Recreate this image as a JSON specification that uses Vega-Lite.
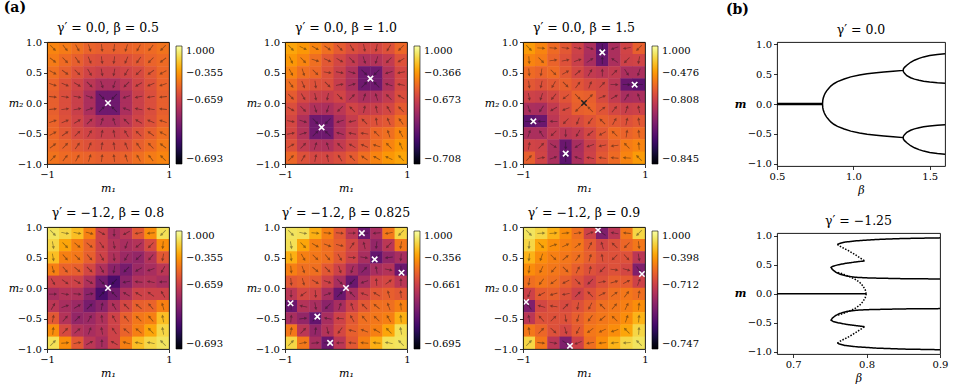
{
"$schema":"https://vega.github.io/schema/vega-lite/v6.json",
"background":"white",
"padding":{"left":3,"top":1,"right":2,"bottom":0},
"config":{
"view":{"stroke":"black","strokeWidth":0.9},
"style":{"cell":{"strokeForeground":true}},
"font":"DejaVu Serif",
"title":{"font":"DejaVu Serif","fontSize":12.5,"fontWeight":"normal","color":"black","offset":3,"frame":"group"},
"axis":{"domain":false,"grid":false,"ticks":true,"tickColor":"black","tickSize":3.5,"tickWidth":0.8,"labelFont":"DejaVu Serif","labelFontSize":10,"labelColor":"black","labelPadding":2,"labelFlush":false,"titleFont":"DejaVu Serif","titleFontSize":11,"titleFontWeight":"normal","titleFontStyle":"italic","titleColor":"black","titlePadding":3},
"legend":{"labelFont":"DejaVu Serif","labelFontSize":10,"labelColor":"black"}
},
"datasets":{
"p1":[
{"x":-0.9,"y":0.9,"v":0.73,"a":135},{"x":-0.7,"y":0.9,"v":0.71,"a":142},{"x":-0.5,"y":0.9,"v":0.68,"a":151},{"x":-0.3,"y":0.9,"v":0.65,"a":162},{"x":-0.1,"y":0.9,"v":0.64,"a":174},{"x":0.1,"y":0.9,"v":0.64,"a":186},{"x":0.3,"y":0.9,"v":0.65,"a":198},{"x":0.5,"y":0.9,"v":0.66,"a":209},{"x":0.7,"y":0.9,"v":0.67,"a":218},{"x":0.9,"y":0.9,"v":0.69,"a":225},
{"x":-0.9,"y":0.7,"v":0.71,"a":128},{"x":-0.7,"y":0.7,"v":0.67,"a":135},{"x":-0.5,"y":0.7,"v":0.64,"a":144},{"x":-0.3,"y":0.7,"v":0.6,"a":157},{"x":-0.1,"y":0.7,"v":0.59,"a":172},{"x":0.1,"y":0.7,"v":0.59,"a":188},{"x":0.3,"y":0.7,"v":0.6,"a":203},{"x":0.5,"y":0.7,"v":0.62,"a":216},{"x":0.7,"y":0.7,"v":0.65,"a":225},{"x":0.9,"y":0.7,"v":0.67,"a":232},
{"x":-0.9,"y":0.5,"v":0.68,"a":119},{"x":-0.7,"y":0.5,"v":0.64,"a":126},{"x":-0.5,"y":0.5,"v":0.6,"a":135},{"x":-0.3,"y":0.5,"v":0.56,"a":149},{"x":-0.1,"y":0.5,"v":0.54,"a":169},{"x":0.1,"y":0.5,"v":0.54,"a":191},{"x":0.3,"y":0.5,"v":0.56,"a":211},{"x":0.5,"y":0.5,"v":0.58,"a":225},{"x":0.7,"y":0.5,"v":0.62,"a":234},{"x":0.9,"y":0.5,"v":0.66,"a":241},
{"x":-0.9,"y":0.3,"v":0.65,"a":108},{"x":-0.7,"y":0.3,"v":0.6,"a":113},{"x":-0.5,"y":0.3,"v":0.56,"a":121},{"x":-0.3,"y":0.3,"v":0.5,"a":135},{"x":-0.1,"y":0.3,"v":0.46,"a":162},{"x":0.1,"y":0.3,"v":0.46,"a":198},{"x":0.3,"y":0.3,"v":0.5,"a":225},{"x":0.5,"y":0.3,"v":0.56,"a":239},{"x":0.7,"y":0.3,"v":0.6,"a":247},{"x":0.9,"y":0.3,"v":0.65,"a":252},
{"x":-0.9,"y":0.1,"v":0.64,"a":96},{"x":-0.7,"y":0.1,"v":0.59,"a":98},{"x":-0.5,"y":0.1,"v":0.54,"a":101},{"x":-0.3,"y":0.1,"v":0.46,"a":108},{"x":-0.1,"y":0.1,"v":0.31,"a":135},{"x":0.1,"y":0.1,"v":0.31,"a":225},{"x":0.3,"y":0.1,"v":0.46,"a":252},{"x":0.5,"y":0.1,"v":0.54,"a":259},{"x":0.7,"y":0.1,"v":0.59,"a":262},{"x":0.9,"y":0.1,"v":0.64,"a":264},
{"x":-0.9,"y":-0.1,"v":0.64,"a":84},{"x":-0.7,"y":-0.1,"v":0.59,"a":82},{"x":-0.5,"y":-0.1,"v":0.54,"a":79},{"x":-0.3,"y":-0.1,"v":0.46,"a":72},{"x":-0.1,"y":-0.1,"v":0.31,"a":45},{"x":0.1,"y":-0.1,"v":0.31,"a":315},{"x":0.3,"y":-0.1,"v":0.46,"a":288},{"x":0.5,"y":-0.1,"v":0.54,"a":281},{"x":0.7,"y":-0.1,"v":0.59,"a":278},{"x":0.9,"y":-0.1,"v":0.64,"a":276},
{"x":-0.9,"y":-0.3,"v":0.65,"a":72},{"x":-0.7,"y":-0.3,"v":0.6,"a":67},{"x":-0.5,"y":-0.3,"v":0.56,"a":59},{"x":-0.3,"y":-0.3,"v":0.5,"a":45},{"x":-0.1,"y":-0.3,"v":0.46,"a":18},{"x":0.1,"y":-0.3,"v":0.46,"a":342},{"x":0.3,"y":-0.3,"v":0.5,"a":315},{"x":0.5,"y":-0.3,"v":0.56,"a":301},{"x":0.7,"y":-0.3,"v":0.6,"a":293},{"x":0.9,"y":-0.3,"v":0.65,"a":288},
{"x":-0.9,"y":-0.5,"v":0.66,"a":61},{"x":-0.7,"y":-0.5,"v":0.62,"a":54},{"x":-0.5,"y":-0.5,"v":0.58,"a":45},{"x":-0.3,"y":-0.5,"v":0.56,"a":31},{"x":-0.1,"y":-0.5,"v":0.54,"a":11},{"x":0.1,"y":-0.5,"v":0.54,"a":349},{"x":0.3,"y":-0.5,"v":0.56,"a":329},{"x":0.5,"y":-0.5,"v":0.6,"a":315},{"x":0.7,"y":-0.5,"v":0.64,"a":306},{"x":0.9,"y":-0.5,"v":0.68,"a":299},
{"x":-0.9,"y":-0.7,"v":0.67,"a":52},{"x":-0.7,"y":-0.7,"v":0.65,"a":45},{"x":-0.5,"y":-0.7,"v":0.62,"a":36},{"x":-0.3,"y":-0.7,"v":0.6,"a":23},{"x":-0.1,"y":-0.7,"v":0.59,"a":8},{"x":0.1,"y":-0.7,"v":0.59,"a":352},{"x":0.3,"y":-0.7,"v":0.6,"a":337},{"x":0.5,"y":-0.7,"v":0.64,"a":324},{"x":0.7,"y":-0.7,"v":0.67,"a":315},{"x":0.9,"y":-0.7,"v":0.71,"a":308},
{"x":-0.9,"y":-0.9,"v":0.69,"a":45},{"x":-0.7,"y":-0.9,"v":0.67,"a":38},{"x":-0.5,"y":-0.9,"v":0.66,"a":29},{"x":-0.3,"y":-0.9,"v":0.65,"a":18},{"x":-0.1,"y":-0.9,"v":0.64,"a":6},{"x":0.1,"y":-0.9,"v":0.64,"a":354},{"x":0.3,"y":-0.9,"v":0.65,"a":342},{"x":0.5,"y":-0.9,"v":0.68,"a":331},{"x":0.7,"y":-0.9,"v":0.71,"a":322},{"x":0.9,"y":-0.9,"v":0.73,"a":315}
],
"p2":[
{"x":-0.9,"y":0.9,"v":0.8,"a":135},{"x":-0.7,"y":0.9,"v":0.77,"a":114},{"x":-0.5,"y":0.9,"v":0.73,"a":119},{"x":-0.3,"y":0.9,"v":0.68,"a":125},{"x":-0.1,"y":0.9,"v":0.63,"a":135},{"x":0.1,"y":0.9,"v":0.59,"a":149},{"x":0.3,"y":0.9,"v":0.57,"a":169},{"x":0.5,"y":0.9,"v":0.57,"a":191},{"x":0.7,"y":0.9,"v":0.6,"a":211},{"x":0.9,"y":0.9,"v":0.66,"a":225},
{"x":-0.9,"y":0.7,"v":0.77,"a":156},{"x":-0.7,"y":0.7,"v":0.73,"a":135},{"x":-0.5,"y":0.7,"v":0.68,"a":108},{"x":-0.3,"y":0.7,"v":0.62,"a":113},{"x":-0.1,"y":0.7,"v":0.57,"a":121},{"x":0.1,"y":0.7,"v":0.52,"a":135},{"x":0.3,"y":0.7,"v":0.47,"a":162},{"x":0.5,"y":0.7,"v":0.48,"a":198},{"x":0.7,"y":0.7,"v":0.52,"a":225},{"x":0.9,"y":0.7,"v":0.6,"a":239},
{"x":-0.9,"y":0.5,"v":0.73,"a":151},{"x":-0.7,"y":0.5,"v":0.68,"a":162},{"x":-0.5,"y":0.5,"v":0.66,"a":135},{"x":-0.3,"y":0.5,"v":0.6,"a":98},{"x":-0.1,"y":0.5,"v":0.54,"a":101},{"x":0.1,"y":0.5,"v":0.47,"a":108},{"x":0.3,"y":0.5,"v":0.31,"a":135},{"x":0.5,"y":0.5,"v":0.31,"a":225},{"x":0.7,"y":0.5,"v":0.48,"a":252},{"x":0.9,"y":0.5,"v":0.57,"a":259},
{"x":-0.9,"y":0.3,"v":0.68,"a":145},{"x":-0.7,"y":0.3,"v":0.62,"a":157},{"x":-0.5,"y":0.3,"v":0.6,"a":172},{"x":-0.3,"y":0.3,"v":0.59,"a":135},{"x":-0.1,"y":0.3,"v":0.53,"a":79},{"x":0.1,"y":0.3,"v":0.46,"a":72},{"x":0.3,"y":0.3,"v":0.31,"a":45},{"x":0.5,"y":0.3,"v":0.31,"a":315},{"x":0.7,"y":0.3,"v":0.47,"a":288},{"x":0.9,"y":0.3,"v":0.57,"a":281},
{"x":-0.9,"y":0.1,"v":0.63,"a":135},{"x":-0.7,"y":0.1,"v":0.57,"a":149},{"x":-0.5,"y":0.1,"v":0.54,"a":169},{"x":-0.3,"y":0.1,"v":0.53,"a":191},{"x":-0.1,"y":0.1,"v":0.56,"a":135},{"x":0.1,"y":0.1,"v":0.5,"a":45},{"x":0.3,"y":0.1,"v":0.46,"a":18},{"x":0.5,"y":0.1,"v":0.47,"a":342},{"x":0.7,"y":0.1,"v":0.52,"a":315},{"x":0.9,"y":0.1,"v":0.59,"a":301},
{"x":-0.9,"y":-0.1,"v":0.59,"a":121},{"x":-0.7,"y":-0.1,"v":0.52,"a":135},{"x":-0.5,"y":-0.1,"v":0.47,"a":162},{"x":-0.3,"y":-0.1,"v":0.46,"a":198},{"x":-0.1,"y":-0.1,"v":0.5,"a":225},{"x":0.1,"y":-0.1,"v":0.56,"a":315},{"x":0.3,"y":-0.1,"v":0.53,"a":11},{"x":0.5,"y":-0.1,"v":0.54,"a":349},{"x":0.7,"y":-0.1,"v":0.57,"a":329},{"x":0.9,"y":-0.1,"v":0.63,"a":315},
{"x":-0.9,"y":-0.3,"v":0.57,"a":101},{"x":-0.7,"y":-0.3,"v":0.47,"a":108},{"x":-0.5,"y":-0.3,"v":0.31,"a":135},{"x":-0.3,"y":-0.3,"v":0.31,"a":225},{"x":-0.1,"y":-0.3,"v":0.46,"a":252},{"x":0.1,"y":-0.3,"v":0.53,"a":259},{"x":0.3,"y":-0.3,"v":0.59,"a":315},{"x":0.5,"y":-0.3,"v":0.6,"a":352},{"x":0.7,"y":-0.3,"v":0.62,"a":337},{"x":0.9,"y":-0.3,"v":0.68,"a":325},
{"x":-0.9,"y":-0.5,"v":0.57,"a":79},{"x":-0.7,"y":-0.5,"v":0.48,"a":72},{"x":-0.5,"y":-0.5,"v":0.31,"a":45},{"x":-0.3,"y":-0.5,"v":0.31,"a":315},{"x":-0.1,"y":-0.5,"v":0.47,"a":288},{"x":0.1,"y":-0.5,"v":0.54,"a":281},{"x":0.3,"y":-0.5,"v":0.6,"a":278},{"x":0.5,"y":-0.5,"v":0.66,"a":315},{"x":0.7,"y":-0.5,"v":0.68,"a":342},{"x":0.9,"y":-0.5,"v":0.73,"a":331},
{"x":-0.9,"y":-0.7,"v":0.6,"a":59},{"x":-0.7,"y":-0.7,"v":0.52,"a":45},{"x":-0.5,"y":-0.7,"v":0.48,"a":18},{"x":-0.3,"y":-0.7,"v":0.47,"a":342},{"x":-0.1,"y":-0.7,"v":0.52,"a":315},{"x":0.1,"y":-0.7,"v":0.57,"a":301},{"x":0.3,"y":-0.7,"v":0.62,"a":293},{"x":0.5,"y":-0.7,"v":0.68,"a":288},{"x":0.7,"y":-0.7,"v":0.73,"a":315},{"x":0.9,"y":-0.7,"v":0.77,"a":336},
{"x":-0.9,"y":-0.9,"v":0.66,"a":45},{"x":-0.7,"y":-0.9,"v":0.6,"a":31},{"x":-0.5,"y":-0.9,"v":0.57,"a":11},{"x":-0.3,"y":-0.9,"v":0.57,"a":349},{"x":-0.1,"y":-0.9,"v":0.59,"a":329},{"x":0.1,"y":-0.9,"v":0.63,"a":315},{"x":0.3,"y":-0.9,"v":0.68,"a":305},{"x":0.5,"y":-0.9,"v":0.73,"a":299},{"x":0.7,"y":-0.9,"v":0.77,"a":294},{"x":0.9,"y":-0.9,"v":0.8,"a":315}
],
"p3":[
{"x":-0.9,"y":0.9,"v":0.78,"a":135},{"x":-0.7,"y":0.9,"v":0.73,"a":94},{"x":-0.5,"y":0.9,"v":0.67,"a":95},{"x":-0.3,"y":0.9,"v":0.62,"a":97},{"x":-0.1,"y":0.9,"v":0.55,"a":100},{"x":0.1,"y":0.9,"v":0.46,"a":109},{"x":0.3,"y":0.9,"v":0.27,"a":180},{"x":0.5,"y":0.9,"v":0.46,"a":251},{"x":0.7,"y":0.9,"v":0.56,"a":260},{"x":0.9,"y":0.9,"v":0.64,"a":225},
{"x":-0.9,"y":0.7,"v":0.73,"a":176},{"x":-0.7,"y":0.7,"v":0.71,"a":135},{"x":-0.5,"y":0.7,"v":0.65,"a":81},{"x":-0.3,"y":0.7,"v":0.6,"a":78},{"x":-0.1,"y":0.7,"v":0.54,"a":72},{"x":0.1,"y":0.7,"v":0.45,"a":57},{"x":0.3,"y":0.7,"v":0.3,"a":0},{"x":0.5,"y":0.7,"v":0.46,"a":303},{"x":0.7,"y":0.7,"v":0.55,"a":225},{"x":0.9,"y":0.7,"v":0.56,"a":190},
{"x":-0.9,"y":0.5,"v":0.67,"a":175},{"x":-0.7,"y":0.5,"v":0.65,"a":189},{"x":-0.5,"y":0.5,"v":0.67,"a":135},{"x":-0.3,"y":0.5,"v":0.62,"a":61},{"x":-0.1,"y":0.5,"v":0.57,"a":50},{"x":0.1,"y":0.5,"v":0.52,"a":31},{"x":0.3,"y":0.5,"v":0.5,"a":0},{"x":0.5,"y":0.5,"v":0.52,"a":45},{"x":0.7,"y":0.5,"v":0.46,"a":147},{"x":0.9,"y":0.5,"v":0.46,"a":199},
{"x":-0.9,"y":0.3,"v":0.62,"a":173},{"x":-0.7,"y":0.3,"v":0.6,"a":192},{"x":-0.5,"y":0.3,"v":0.62,"a":209},{"x":-0.3,"y":0.3,"v":0.64,"a":135},{"x":-0.1,"y":0.3,"v":0.61,"a":37},{"x":0.1,"y":0.3,"v":0.58,"a":21},{"x":0.3,"y":0.3,"v":0.57,"a":45},{"x":0.5,"y":0.3,"v":0.5,"a":90},{"x":0.7,"y":0.3,"v":0.3,"a":90},{"x":0.9,"y":0.3,"v":0.27,"a":270},
{"x":-0.9,"y":0.1,"v":0.55,"a":170},{"x":-0.7,"y":0.1,"v":0.54,"a":198},{"x":-0.5,"y":0.1,"v":0.57,"a":220},{"x":-0.3,"y":0.1,"v":0.61,"a":233},{"x":-0.1,"y":0.1,"v":0.65,"a":135},{"x":0.1,"y":0.1,"v":0.64,"a":45},{"x":0.3,"y":0.1,"v":0.58,"a":69},{"x":0.5,"y":0.1,"v":0.52,"a":59},{"x":0.7,"y":0.1,"v":0.45,"a":33},{"x":0.9,"y":0.1,"v":0.46,"a":341},
{"x":-0.9,"y":-0.1,"v":0.46,"a":161},{"x":-0.7,"y":-0.1,"v":0.45,"a":213},{"x":-0.5,"y":-0.1,"v":0.52,"a":239},{"x":-0.3,"y":-0.1,"v":0.58,"a":249},{"x":-0.1,"y":-0.1,"v":0.64,"a":225},{"x":0.1,"y":-0.1,"v":0.65,"a":315},{"x":0.3,"y":-0.1,"v":0.61,"a":53},{"x":0.5,"y":-0.1,"v":0.57,"a":40},{"x":0.7,"y":-0.1,"v":0.54,"a":18},{"x":0.9,"y":-0.1,"v":0.55,"a":350},
{"x":-0.9,"y":-0.3,"v":0.27,"a":90},{"x":-0.7,"y":-0.3,"v":0.3,"a":270},{"x":-0.5,"y":-0.3,"v":0.5,"a":270},{"x":-0.3,"y":-0.3,"v":0.57,"a":225},{"x":-0.1,"y":-0.3,"v":0.58,"a":201},{"x":0.1,"y":-0.3,"v":0.61,"a":217},{"x":0.3,"y":-0.3,"v":0.64,"a":315},{"x":0.5,"y":-0.3,"v":0.62,"a":29},{"x":0.7,"y":-0.3,"v":0.6,"a":12},{"x":0.9,"y":-0.3,"v":0.62,"a":353},
{"x":-0.9,"y":-0.5,"v":0.46,"a":19},{"x":-0.7,"y":-0.5,"v":0.46,"a":327},{"x":-0.5,"y":-0.5,"v":0.52,"a":225},{"x":-0.3,"y":-0.5,"v":0.5,"a":180},{"x":-0.1,"y":-0.5,"v":0.52,"a":211},{"x":0.1,"y":-0.5,"v":0.57,"a":230},{"x":0.3,"y":-0.5,"v":0.62,"a":241},{"x":0.5,"y":-0.5,"v":0.67,"a":315},{"x":0.7,"y":-0.5,"v":0.65,"a":9},{"x":0.9,"y":-0.5,"v":0.67,"a":355},
{"x":-0.9,"y":-0.7,"v":0.56,"a":10},{"x":-0.7,"y":-0.7,"v":0.55,"a":45},{"x":-0.5,"y":-0.7,"v":0.46,"a":123},{"x":-0.3,"y":-0.7,"v":0.3,"a":180},{"x":-0.1,"y":-0.7,"v":0.45,"a":237},{"x":0.1,"y":-0.7,"v":0.54,"a":252},{"x":0.3,"y":-0.7,"v":0.6,"a":258},{"x":0.5,"y":-0.7,"v":0.65,"a":261},{"x":0.7,"y":-0.7,"v":0.71,"a":315},{"x":0.9,"y":-0.7,"v":0.73,"a":356},
{"x":-0.9,"y":-0.9,"v":0.64,"a":45},{"x":-0.7,"y":-0.9,"v":0.56,"a":80},{"x":-0.5,"y":-0.9,"v":0.46,"a":71},{"x":-0.3,"y":-0.9,"v":0.27,"a":0},{"x":-0.1,"y":-0.9,"v":0.46,"a":289},{"x":0.1,"y":-0.9,"v":0.55,"a":280},{"x":0.3,"y":-0.9,"v":0.62,"a":277},{"x":0.5,"y":-0.9,"v":0.67,"a":275},{"x":0.7,"y":-0.9,"v":0.73,"a":274},{"x":0.9,"y":-0.9,"v":0.78,"a":315}
],
"p4":[
{"x":-0.9,"y":0.9,"v":0.93,"a":135},{"x":-0.7,"y":0.9,"v":0.9,"a":100},{"x":-0.5,"y":0.9,"v":0.85,"a":100},{"x":-0.3,"y":0.9,"v":0.72,"a":105},{"x":-0.1,"y":0.9,"v":0.55,"a":120},{"x":0.1,"y":0.9,"v":0.45,"a":180},{"x":0.3,"y":0.9,"v":0.5,"a":240},{"x":0.5,"y":0.9,"v":0.62,"a":260},{"x":0.7,"y":0.9,"v":0.75,"a":265},{"x":0.9,"y":0.9,"v":0.92,"a":225},
{"x":-0.9,"y":0.7,"v":0.9,"a":170},{"x":-0.7,"y":0.7,"v":0.8,"a":135},{"x":-0.5,"y":0.7,"v":0.72,"a":130},{"x":-0.3,"y":0.7,"v":0.65,"a":130},{"x":-0.1,"y":0.7,"v":0.55,"a":145},{"x":0.1,"y":0.7,"v":0.48,"a":170},{"x":0.3,"y":0.7,"v":0.45,"a":200},{"x":0.5,"y":0.7,"v":0.48,"a":230},{"x":0.7,"y":0.7,"v":0.58,"a":225},{"x":0.9,"y":0.7,"v":0.75,"a":185},
{"x":-0.9,"y":0.5,"v":0.85,"a":170},{"x":-0.7,"y":0.5,"v":0.72,"a":140},{"x":-0.5,"y":0.5,"v":0.7,"a":135},{"x":-0.3,"y":0.5,"v":0.64,"a":140},{"x":-0.1,"y":0.5,"v":0.55,"a":150},{"x":0.1,"y":0.5,"v":0.47,"a":175},{"x":0.3,"y":0.5,"v":0.42,"a":210},{"x":0.5,"y":0.5,"v":0.4,"a":225},{"x":0.7,"y":0.5,"v":0.48,"a":220},{"x":0.9,"y":0.5,"v":0.62,"a":190},
{"x":-0.9,"y":0.3,"v":0.72,"a":165},{"x":-0.7,"y":0.3,"v":0.65,"a":140},{"x":-0.5,"y":0.3,"v":0.64,"a":130},{"x":-0.3,"y":0.3,"v":0.57,"a":135},{"x":-0.1,"y":0.3,"v":0.47,"a":150},{"x":0.1,"y":0.3,"v":0.38,"a":190},{"x":0.3,"y":0.3,"v":0.33,"a":225},{"x":0.5,"y":0.3,"v":0.42,"a":240},{"x":0.7,"y":0.3,"v":0.45,"a":250},{"x":0.9,"y":0.3,"v":0.5,"a":210},
{"x":-0.9,"y":0.1,"v":0.55,"a":150},{"x":-0.7,"y":0.1,"v":0.55,"a":125},{"x":-0.5,"y":0.1,"v":0.55,"a":120},{"x":-0.3,"y":0.1,"v":0.47,"a":120},{"x":-0.1,"y":0.1,"v":0.32,"a":135},{"x":0.1,"y":0.1,"v":0.22,"a":225},{"x":0.3,"y":0.1,"v":0.38,"a":260},{"x":0.5,"y":0.1,"v":0.47,"a":275},{"x":0.7,"y":0.1,"v":0.48,"a":280},{"x":0.9,"y":0.1,"v":0.45,"a":270},
{"x":-0.9,"y":-0.1,"v":0.45,"a":90},{"x":-0.7,"y":-0.1,"v":0.48,"a":100},{"x":-0.5,"y":-0.1,"v":0.47,"a":95},{"x":-0.3,"y":-0.1,"v":0.38,"a":80},{"x":-0.1,"y":-0.1,"v":0.22,"a":45},{"x":0.1,"y":-0.1,"v":0.32,"a":315},{"x":0.3,"y":-0.1,"v":0.47,"a":300},{"x":0.5,"y":-0.1,"v":0.55,"a":300},{"x":0.7,"y":-0.1,"v":0.55,"a":305},{"x":0.9,"y":-0.1,"v":0.55,"a":330},
{"x":-0.9,"y":-0.3,"v":0.5,"a":30},{"x":-0.7,"y":-0.3,"v":0.45,"a":70},{"x":-0.5,"y":-0.3,"v":0.42,"a":60},{"x":-0.3,"y":-0.3,"v":0.33,"a":45},{"x":-0.1,"y":-0.3,"v":0.38,"a":10},{"x":0.1,"y":-0.3,"v":0.47,"a":330},{"x":0.3,"y":-0.3,"v":0.57,"a":315},{"x":0.5,"y":-0.3,"v":0.64,"a":310},{"x":0.7,"y":-0.3,"v":0.65,"a":320},{"x":0.9,"y":-0.3,"v":0.72,"a":345},
{"x":-0.9,"y":-0.5,"v":0.62,"a":10},{"x":-0.7,"y":-0.5,"v":0.48,"a":40},{"x":-0.5,"y":-0.5,"v":0.4,"a":45},{"x":-0.3,"y":-0.5,"v":0.42,"a":30},{"x":-0.1,"y":-0.5,"v":0.47,"a":355},{"x":0.1,"y":-0.5,"v":0.55,"a":330},{"x":0.3,"y":-0.5,"v":0.64,"a":320},{"x":0.5,"y":-0.5,"v":0.7,"a":315},{"x":0.7,"y":-0.5,"v":0.72,"a":320},{"x":0.9,"y":-0.5,"v":0.85,"a":350},
{"x":-0.9,"y":-0.7,"v":0.75,"a":5},{"x":-0.7,"y":-0.7,"v":0.58,"a":45},{"x":-0.5,"y":-0.7,"v":0.48,"a":50},{"x":-0.3,"y":-0.7,"v":0.45,"a":20},{"x":-0.1,"y":-0.7,"v":0.48,"a":350},{"x":0.1,"y":-0.7,"v":0.55,"a":325},{"x":0.3,"y":-0.7,"v":0.65,"a":310},{"x":0.5,"y":-0.7,"v":0.72,"a":310},{"x":0.7,"y":-0.7,"v":0.8,"a":315},{"x":0.9,"y":-0.7,"v":0.9,"a":350},
{"x":-0.9,"y":-0.9,"v":0.92,"a":45},{"x":-0.7,"y":-0.9,"v":0.75,"a":85},{"x":-0.5,"y":-0.9,"v":0.62,"a":80},{"x":-0.3,"y":-0.9,"v":0.5,"a":60},{"x":-0.1,"y":-0.9,"v":0.45,"a":0},{"x":0.1,"y":-0.9,"v":0.55,"a":300},{"x":0.3,"y":-0.9,"v":0.72,"a":285},{"x":0.5,"y":-0.9,"v":0.85,"a":280},{"x":0.7,"y":-0.9,"v":0.9,"a":280},{"x":0.9,"y":-0.9,"v":0.93,"a":315}
],
"p5":[
{"x":-0.9,"y":0.9,"v":0.93,"a":135},{"x":-0.7,"y":0.9,"v":0.92,"a":100},{"x":-0.5,"y":0.9,"v":0.82,"a":95},{"x":-0.3,"y":0.9,"v":0.72,"a":95},{"x":-0.1,"y":0.9,"v":0.62,"a":95},{"x":0.1,"y":0.9,"v":0.5,"a":90},{"x":0.3,"y":0.9,"v":0.3,"a":270},{"x":0.5,"y":0.9,"v":0.45,"a":265},{"x":0.7,"y":0.9,"v":0.7,"a":260},{"x":0.9,"y":0.9,"v":0.9,"a":225},
{"x":-0.9,"y":0.7,"v":0.92,"a":170},{"x":-0.7,"y":0.7,"v":0.8,"a":135},{"x":-0.5,"y":0.7,"v":0.72,"a":120},{"x":-0.3,"y":0.7,"v":0.68,"a":110},{"x":-0.1,"y":0.7,"v":0.64,"a":105},{"x":0.1,"y":0.7,"v":0.57,"a":36},{"x":0.3,"y":0.7,"v":0.48,"a":347},{"x":0.5,"y":0.7,"v":0.4,"a":187},{"x":0.7,"y":0.7,"v":0.5,"a":225},{"x":0.9,"y":0.7,"v":0.7,"a":190},
{"x":-0.9,"y":0.5,"v":0.82,"a":175},{"x":-0.7,"y":0.5,"v":0.72,"a":150},{"x":-0.5,"y":0.5,"v":0.7,"a":135},{"x":-0.3,"y":0.5,"v":0.68,"a":140},{"x":-0.1,"y":0.5,"v":0.62,"a":150},{"x":0.1,"y":0.5,"v":0.55,"a":95},{"x":0.3,"y":0.5,"v":0.45,"a":100},{"x":0.5,"y":0.5,"v":0.28,"a":225},{"x":0.7,"y":0.5,"v":0.4,"a":263},{"x":0.9,"y":0.5,"v":0.45,"a":185},
{"x":-0.9,"y":0.3,"v":0.72,"a":175},{"x":-0.7,"y":0.3,"v":0.68,"a":160},{"x":-0.5,"y":0.3,"v":0.68,"a":130},{"x":-0.3,"y":0.3,"v":0.62,"a":135},{"x":-0.1,"y":0.3,"v":0.55,"a":162},{"x":0.1,"y":0.3,"v":0.45,"a":198},{"x":0.3,"y":0.3,"v":0.38,"a":45},{"x":0.5,"y":0.3,"v":0.45,"a":350},{"x":0.7,"y":0.3,"v":0.48,"a":103},{"x":0.9,"y":0.3,"v":0.3,"a":180},
{"x":-0.9,"y":0.1,"v":0.62,"a":175},{"x":-0.7,"y":0.1,"v":0.64,"a":165},{"x":-0.5,"y":0.1,"v":0.62,"a":120},{"x":-0.3,"y":0.1,"v":0.55,"a":108},{"x":-0.1,"y":0.1,"v":0.45,"a":135},{"x":0.1,"y":0.1,"v":0.3,"a":225},{"x":0.3,"y":0.1,"v":0.45,"a":252},{"x":0.5,"y":0.1,"v":0.55,"a":355},{"x":0.7,"y":0.1,"v":0.57,"a":54},{"x":0.9,"y":0.1,"v":0.5,"a":0},
{"x":-0.9,"y":-0.1,"v":0.5,"a":180},{"x":-0.7,"y":-0.1,"v":0.57,"a":234},{"x":-0.5,"y":-0.1,"v":0.55,"a":175},{"x":-0.3,"y":-0.1,"v":0.45,"a":72},{"x":-0.1,"y":-0.1,"v":0.3,"a":45},{"x":0.1,"y":-0.1,"v":0.45,"a":315},{"x":0.3,"y":-0.1,"v":0.55,"a":288},{"x":0.5,"y":-0.1,"v":0.62,"a":300},{"x":0.7,"y":-0.1,"v":0.64,"a":345},{"x":0.9,"y":-0.1,"v":0.62,"a":355},
{"x":-0.9,"y":-0.3,"v":0.3,"a":0},{"x":-0.7,"y":-0.3,"v":0.48,"a":283},{"x":-0.5,"y":-0.3,"v":0.45,"a":170},{"x":-0.3,"y":-0.3,"v":0.38,"a":225},{"x":-0.1,"y":-0.3,"v":0.45,"a":18},{"x":0.1,"y":-0.3,"v":0.55,"a":342},{"x":0.3,"y":-0.3,"v":0.62,"a":315},{"x":0.5,"y":-0.3,"v":0.68,"a":310},{"x":0.7,"y":-0.3,"v":0.68,"a":340},{"x":0.9,"y":-0.3,"v":0.72,"a":355},
{"x":-0.9,"y":-0.5,"v":0.45,"a":5},{"x":-0.7,"y":-0.5,"v":0.4,"a":83},{"x":-0.5,"y":-0.5,"v":0.28,"a":45},{"x":-0.3,"y":-0.5,"v":0.45,"a":280},{"x":-0.1,"y":-0.5,"v":0.55,"a":275},{"x":0.1,"y":-0.5,"v":0.62,"a":330},{"x":0.3,"y":-0.5,"v":0.68,"a":320},{"x":0.5,"y":-0.5,"v":0.7,"a":315},{"x":0.7,"y":-0.5,"v":0.72,"a":330},{"x":0.9,"y":-0.5,"v":0.82,"a":355},
{"x":-0.9,"y":-0.7,"v":0.7,"a":10},{"x":-0.7,"y":-0.7,"v":0.5,"a":45},{"x":-0.5,"y":-0.7,"v":0.4,"a":7},{"x":-0.3,"y":-0.7,"v":0.48,"a":167},{"x":-0.1,"y":-0.7,"v":0.57,"a":216},{"x":0.1,"y":-0.7,"v":0.64,"a":285},{"x":0.3,"y":-0.7,"v":0.68,"a":290},{"x":0.5,"y":-0.7,"v":0.72,"a":300},{"x":0.7,"y":-0.7,"v":0.8,"a":315},{"x":0.9,"y":-0.7,"v":0.92,"a":350},
{"x":-0.9,"y":-0.9,"v":0.9,"a":45},{"x":-0.7,"y":-0.9,"v":0.7,"a":80},{"x":-0.5,"y":-0.9,"v":0.45,"a":85},{"x":-0.3,"y":-0.9,"v":0.3,"a":90},{"x":-0.1,"y":-0.9,"v":0.5,"a":270},{"x":0.1,"y":-0.9,"v":0.62,"a":275},{"x":0.3,"y":-0.9,"v":0.72,"a":275},{"x":0.5,"y":-0.9,"v":0.82,"a":275},{"x":0.7,"y":-0.9,"v":0.92,"a":280},{"x":0.9,"y":-0.9,"v":0.93,"a":315}
],
"p6":[
{"x":-0.9,"y":0.9,"v":0.93,"a":135},{"x":-0.7,"y":0.9,"v":0.9,"a":87},{"x":-0.5,"y":0.9,"v":0.83,"a":86},{"x":-0.3,"y":0.9,"v":0.75,"a":85},{"x":-0.1,"y":0.9,"v":0.68,"a":81},{"x":0.1,"y":0.9,"v":0.55,"a":69},{"x":0.3,"y":0.9,"v":0.35,"a":305},{"x":0.5,"y":0.9,"v":0.5,"a":280},{"x":0.7,"y":0.9,"v":0.7,"a":276},{"x":0.9,"y":0.9,"v":0.9,"a":225},
{"x":-0.9,"y":0.7,"v":0.9,"a":183},{"x":-0.7,"y":0.7,"v":0.8,"a":135},{"x":-0.5,"y":0.7,"v":0.75,"a":71},{"x":-0.3,"y":0.7,"v":0.72,"a":65},{"x":-0.1,"y":0.7,"v":0.7,"a":53},{"x":0.1,"y":0.7,"v":0.63,"a":27},{"x":0.3,"y":0.7,"v":0.57,"a":344},{"x":0.5,"y":0.7,"v":0.6,"a":313},{"x":0.7,"y":0.7,"v":0.66,"a":225},{"x":0.9,"y":0.7,"v":0.7,"a":174},
{"x":-0.9,"y":0.5,"v":0.83,"a":184},{"x":-0.7,"y":0.5,"v":0.75,"a":199},{"x":-0.5,"y":0.5,"v":0.72,"a":135},{"x":-0.3,"y":0.5,"v":0.7,"a":50},{"x":-0.1,"y":0.5,"v":0.68,"a":36},{"x":0.1,"y":0.5,"v":0.64,"a":16},{"x":0.3,"y":0.5,"v":0.6,"a":351},{"x":0.5,"y":0.5,"v":0.6,"a":225},{"x":0.7,"y":0.5,"v":0.6,"a":137},{"x":0.9,"y":0.5,"v":0.5,"a":170},
{"x":-0.9,"y":0.3,"v":0.75,"a":185},{"x":-0.7,"y":0.3,"v":0.72,"a":205},{"x":-0.5,"y":0.3,"v":0.7,"a":220},{"x":-0.3,"y":0.3,"v":0.68,"a":135},{"x":-0.1,"y":0.3,"v":0.64,"a":27},{"x":0.1,"y":0.3,"v":0.6,"a":11},{"x":0.3,"y":0.3,"v":0.58,"a":225},{"x":0.5,"y":0.3,"v":0.6,"a":99},{"x":0.7,"y":0.3,"v":0.57,"a":106},{"x":0.9,"y":0.3,"v":0.35,"a":145},
{"x":-0.9,"y":0.1,"v":0.68,"a":189},{"x":-0.7,"y":0.1,"v":0.7,"a":217},{"x":-0.5,"y":0.1,"v":0.68,"a":234},{"x":-0.3,"y":0.1,"v":0.64,"a":243},{"x":-0.1,"y":0.1,"v":0.6,"a":135},{"x":0.1,"y":0.1,"v":0.55,"a":225},{"x":0.3,"y":0.1,"v":0.6,"a":79},{"x":0.5,"y":0.1,"v":0.64,"a":74},{"x":0.7,"y":0.1,"v":0.63,"a":63},{"x":0.9,"y":0.1,"v":0.55,"a":21},
{"x":-0.9,"y":-0.1,"v":0.55,"a":201},{"x":-0.7,"y":-0.1,"v":0.63,"a":243},{"x":-0.5,"y":-0.1,"v":0.64,"a":254},{"x":-0.3,"y":-0.1,"v":0.6,"a":259},{"x":-0.1,"y":-0.1,"v":0.55,"a":45},{"x":0.1,"y":-0.1,"v":0.6,"a":315},{"x":0.3,"y":-0.1,"v":0.64,"a":63},{"x":0.5,"y":-0.1,"v":0.68,"a":54},{"x":0.7,"y":-0.1,"v":0.7,"a":37},{"x":0.9,"y":-0.1,"v":0.68,"a":9},
{"x":-0.9,"y":-0.3,"v":0.35,"a":325},{"x":-0.7,"y":-0.3,"v":0.57,"a":286},{"x":-0.5,"y":-0.3,"v":0.6,"a":279},{"x":-0.3,"y":-0.3,"v":0.58,"a":45},{"x":-0.1,"y":-0.3,"v":0.6,"a":191},{"x":0.1,"y":-0.3,"v":0.64,"a":207},{"x":0.3,"y":-0.3,"v":0.68,"a":315},{"x":0.5,"y":-0.3,"v":0.7,"a":40},{"x":0.7,"y":-0.3,"v":0.72,"a":25},{"x":0.9,"y":-0.3,"v":0.75,"a":5},
{"x":-0.9,"y":-0.5,"v":0.5,"a":350},{"x":-0.7,"y":-0.5,"v":0.6,"a":317},{"x":-0.5,"y":-0.5,"v":0.6,"a":45},{"x":-0.3,"y":-0.5,"v":0.6,"a":171},{"x":-0.1,"y":-0.5,"v":0.64,"a":196},{"x":0.1,"y":-0.5,"v":0.68,"a":216},{"x":0.3,"y":-0.5,"v":0.7,"a":230},{"x":0.5,"y":-0.5,"v":0.72,"a":315},{"x":0.7,"y":-0.5,"v":0.75,"a":19},{"x":0.9,"y":-0.5,"v":0.83,"a":4},
{"x":-0.9,"y":-0.7,"v":0.7,"a":354},{"x":-0.7,"y":-0.7,"v":0.66,"a":45},{"x":-0.5,"y":-0.7,"v":0.6,"a":133},{"x":-0.3,"y":-0.7,"v":0.57,"a":164},{"x":-0.1,"y":-0.7,"v":0.63,"a":207},{"x":0.1,"y":-0.7,"v":0.7,"a":233},{"x":0.3,"y":-0.7,"v":0.72,"a":245},{"x":0.5,"y":-0.7,"v":0.75,"a":251},{"x":0.7,"y":-0.7,"v":0.8,"a":315},{"x":0.9,"y":-0.7,"v":0.9,"a":3},
{"x":-0.9,"y":-0.9,"v":0.9,"a":45},{"x":-0.7,"y":-0.9,"v":0.7,"a":96},{"x":-0.5,"y":-0.9,"v":0.5,"a":100},{"x":-0.3,"y":-0.9,"v":0.35,"a":125},{"x":-0.1,"y":-0.9,"v":0.55,"a":249},{"x":0.1,"y":-0.9,"v":0.68,"a":261},{"x":0.3,"y":-0.9,"v":0.75,"a":265},{"x":0.5,"y":-0.9,"v":0.83,"a":266},{"x":0.7,"y":-0.9,"v":0.9,"a":267},{"x":0.9,"y":-0.9,"v":0.93,"a":315}
],
"k1":[{"x":0,"y":0,"t":"min"}],
"k2":[{"x":0.4,"y":0.4,"t":"min"},{"x":-0.4,"y":-0.4,"t":"min"}],
"k3":[{"x":0.3,"y":0.83,"t":"min"},{"x":0.83,"y":0.3,"t":"min"},{"x":-0.3,"y":-0.83,"t":"min"},{"x":-0.83,"y":-0.3,"t":"min"},{"x":0,"y":0,"t":"saddle"}],
"k4":[{"x":0,"y":0,"t":"min"}],
"k5":[{"x":0,"y":0,"t":"min"},{"x":0.47,"y":0.47,"t":"min"},{"x":-0.47,"y":-0.47,"t":"min"},{"x":0.26,"y":0.9,"t":"min"},{"x":-0.26,"y":-0.9,"t":"min"},{"x":0.91,"y":0.25,"t":"min"},{"x":-0.91,"y":-0.25,"t":"min"}],
"k6":[{"x":0.23,"y":0.95,"t":"min"},{"x":-0.23,"y":-0.95,"t":"min"},{"x":0.95,"y":0.23,"t":"min"},{"x":-0.95,"y":-0.23,"t":"min"}],
"b1":[
{"c":"z","i":0,"b":0.5,"m":0},{"c":"z","i":1,"b":0.798,"m":0},
{"c":"u","i":0,"b":0.798,"m":0},{"c":"u","i":1,"b":0.8,"m":0.065},{"c":"u","i":2,"b":0.803,"m":0.1},{"c":"u","i":3,"b":0.808,"m":0.14},{"c":"u","i":4,"b":0.815,"m":0.18},{"c":"u","i":5,"b":0.825,"m":0.22},{"c":"u","i":6,"b":0.838,"m":0.26},{"c":"u","i":7,"b":0.852,"m":0.3},{"c":"u","i":8,"b":0.872,"m":0.34},{"c":"u","i":9,"b":0.896,"m":0.375},{"c":"u","i":10,"b":0.94,"m":0.42},{"c":"u","i":11,"b":0.983,"m":0.455},{"c":"u","i":12,"b":1.04,"m":0.485},{"c":"u","i":13,"b":1.09,"m":0.507},{"c":"u","i":14,"b":1.15,"m":0.524},{"c":"u","i":15,"b":1.2,"m":0.536},{"c":"u","i":16,"b":1.26,"m":0.55},{"c":"u","i":17,"b":1.326,"m":0.564},{"c":"u","i":18,"b":1.328,"m":0.59},{"c":"u","i":19,"b":1.335,"m":0.615},{"c":"u","i":20,"b":1.35,"m":0.65},{"c":"u","i":21,"b":1.375,"m":0.7},{"c":"u","i":22,"b":1.4,"m":0.735},{"c":"u","i":23,"b":1.43,"m":0.765},{"c":"u","i":24,"b":1.46,"m":0.79},{"c":"u","i":25,"b":1.5,"m":0.812},{"c":"u","i":26,"b":1.55,"m":0.83},{"c":"u","i":27,"b":1.6,"m":0.845},
{"c":"ul","i":0,"b":1.326,"m":0.564},{"c":"ul","i":1,"b":1.328,"m":0.54},{"c":"ul","i":2,"b":1.335,"m":0.514},{"c":"ul","i":3,"b":1.35,"m":0.475},{"c":"ul","i":4,"b":1.375,"m":0.44},{"c":"ul","i":5,"b":1.4,"m":0.417},{"c":"ul","i":6,"b":1.43,"m":0.398},{"c":"ul","i":7,"b":1.46,"m":0.383},{"c":"ul","i":8,"b":1.5,"m":0.37},{"c":"ul","i":9,"b":1.55,"m":0.358},{"c":"ul","i":10,"b":1.6,"m":0.35},
{"c":"d","i":0,"b":0.798,"m":0},{"c":"d","i":1,"b":0.8,"m":-0.065},{"c":"d","i":2,"b":0.803,"m":-0.1},{"c":"d","i":3,"b":0.808,"m":-0.14},{"c":"d","i":4,"b":0.815,"m":-0.18},{"c":"d","i":5,"b":0.825,"m":-0.22},{"c":"d","i":6,"b":0.838,"m":-0.26},{"c":"d","i":7,"b":0.852,"m":-0.3},{"c":"d","i":8,"b":0.872,"m":-0.34},{"c":"d","i":9,"b":0.896,"m":-0.375},{"c":"d","i":10,"b":0.94,"m":-0.42},{"c":"d","i":11,"b":0.983,"m":-0.455},{"c":"d","i":12,"b":1.04,"m":-0.485},{"c":"d","i":13,"b":1.09,"m":-0.507},{"c":"d","i":14,"b":1.15,"m":-0.524},{"c":"d","i":15,"b":1.2,"m":-0.536},{"c":"d","i":16,"b":1.26,"m":-0.55},{"c":"d","i":17,"b":1.326,"m":-0.564},{"c":"d","i":18,"b":1.328,"m":-0.59},{"c":"d","i":19,"b":1.335,"m":-0.615},{"c":"d","i":20,"b":1.35,"m":-0.65},{"c":"d","i":21,"b":1.375,"m":-0.7},{"c":"d","i":22,"b":1.4,"m":-0.735},{"c":"d","i":23,"b":1.43,"m":-0.765},{"c":"d","i":24,"b":1.46,"m":-0.79},{"c":"d","i":25,"b":1.5,"m":-0.812},{"c":"d","i":26,"b":1.55,"m":-0.83},{"c":"d","i":27,"b":1.6,"m":-0.845},
{"c":"dl","i":0,"b":1.326,"m":-0.564},{"c":"dl","i":1,"b":1.328,"m":-0.54},{"c":"dl","i":2,"b":1.335,"m":-0.514},{"c":"dl","i":3,"b":1.35,"m":-0.475},{"c":"dl","i":4,"b":1.375,"m":-0.44},{"c":"dl","i":5,"b":1.4,"m":-0.417},{"c":"dl","i":6,"b":1.43,"m":-0.398},{"c":"dl","i":7,"b":1.46,"m":-0.383},{"c":"dl","i":8,"b":1.5,"m":-0.37},{"c":"dl","i":9,"b":1.55,"m":-0.358},{"c":"dl","i":10,"b":1.6,"m":-0.35}
],
"b2":[
{"c":"z","st":"stable","i":0,"b":0.678,"m":0},{"c":"z","st":"stable","i":1,"b":0.7995,"m":0},
{"c":"A","st":"stable","i":0,"b":0.9,"m":0.966},{"c":"A","st":"stable","i":1,"b":0.8493,"m":0.955},{"c":"A","st":"stable","i":2,"b":0.8131,"m":0.938},{"c":"A","st":"stable","i":3,"b":0.786,"m":0.915},{"c":"A","st":"stable","i":4,"b":0.77,"m":0.892},{"c":"A","st":"stable","i":5,"b":0.7633,"m":0.869},{"c":"A","st":"stable","i":6,"b":0.7602,"m":0.852},
{"c":"A2","st":"unstable","i":0,"b":0.7602,"m":0.852},{"c":"A2","st":"unstable","i":1,"b":0.7656,"m":0.807},{"c":"A2","st":"unstable","i":2,"b":0.7747,"m":0.75},{"c":"A2","st":"unstable","i":3,"b":0.7837,"m":0.682},{"c":"A2","st":"unstable","i":4,"b":0.7905,"m":0.625},{"c":"A2","st":"unstable","i":5,"b":0.7973,"m":0.568},
{"c":"B","st":"stable","i":0,"b":0.7973,"m":0.568},{"c":"B","st":"stable","i":1,"b":0.786,"m":0.551},{"c":"B","st":"stable","i":2,"b":0.7724,"m":0.528},{"c":"B","st":"stable","i":3,"b":0.7611,"m":0.5},{"c":"B","st":"stable","i":4,"b":0.7543,"m":0.477},{"c":"B","st":"stable","i":5,"b":0.7516,"m":0.455},{"c":"B","st":"stable","i":6,"b":0.7534,"m":0.42},{"c":"B","st":"stable","i":7,"b":0.7579,"m":0.375},{"c":"B","st":"stable","i":8,"b":0.7633,"m":0.341},{"c":"B","st":"stable","i":9,"b":0.7724,"m":0.307},{"c":"B","st":"stable","i":10,"b":0.786,"m":0.284},{"c":"B","st":"stable","i":11,"b":0.8041,"m":0.273},{"c":"B","st":"stable","i":12,"b":0.8493,"m":0.261},{"c":"B","st":"stable","i":13,"b":0.9,"m":0.256},
{"c":"C","st":"unstable","i":0,"b":0.7995,"m":0},{"c":"C","st":"unstable","i":1,"b":0.7982,"m":0.068},{"c":"C","st":"unstable","i":2,"b":0.795,"m":0.136},{"c":"C","st":"unstable","i":3,"b":0.7905,"m":0.199},{"c":"C","st":"unstable","i":4,"b":0.7837,"m":0.256},{"c":"C","st":"unstable","i":5,"b":0.776,"m":0.301},{"c":"C","st":"unstable","i":6,"b":0.7679,"m":0.341},{"c":"C","st":"unstable","i":7,"b":0.7611,"m":0.369},
{"c":"An","st":"stable","i":0,"b":0.9,"m":-0.966},{"c":"An","st":"stable","i":1,"b":0.8493,"m":-0.955},{"c":"An","st":"stable","i":2,"b":0.8131,"m":-0.938},{"c":"An","st":"stable","i":3,"b":0.786,"m":-0.915},{"c":"An","st":"stable","i":4,"b":0.77,"m":-0.892},{"c":"An","st":"stable","i":5,"b":0.7633,"m":-0.869},{"c":"An","st":"stable","i":6,"b":0.7602,"m":-0.852},
{"c":"A2n","st":"unstable","i":0,"b":0.7602,"m":-0.852},{"c":"A2n","st":"unstable","i":1,"b":0.7656,"m":-0.807},{"c":"A2n","st":"unstable","i":2,"b":0.7747,"m":-0.75},{"c":"A2n","st":"unstable","i":3,"b":0.7837,"m":-0.682},{"c":"A2n","st":"unstable","i":4,"b":0.7905,"m":-0.625},{"c":"A2n","st":"unstable","i":5,"b":0.7973,"m":-0.568},
{"c":"Bn","st":"stable","i":0,"b":0.7973,"m":-0.568},{"c":"Bn","st":"stable","i":1,"b":0.786,"m":-0.551},{"c":"Bn","st":"stable","i":2,"b":0.7724,"m":-0.528},{"c":"Bn","st":"stable","i":3,"b":0.7611,"m":-0.5},{"c":"Bn","st":"stable","i":4,"b":0.7543,"m":-0.477},{"c":"Bn","st":"stable","i":5,"b":0.7516,"m":-0.455},{"c":"Bn","st":"stable","i":6,"b":0.7534,"m":-0.42},{"c":"Bn","st":"stable","i":7,"b":0.7579,"m":-0.375},{"c":"Bn","st":"stable","i":8,"b":0.7633,"m":-0.341},{"c":"Bn","st":"stable","i":9,"b":0.7724,"m":-0.307},{"c":"Bn","st":"stable","i":10,"b":0.786,"m":-0.284},{"c":"Bn","st":"stable","i":11,"b":0.8041,"m":-0.273},{"c":"Bn","st":"stable","i":12,"b":0.8493,"m":-0.261},{"c":"Bn","st":"stable","i":13,"b":0.9,"m":-0.256},
{"c":"Cn","st":"unstable","i":0,"b":0.7995,"m":0},{"c":"Cn","st":"unstable","i":1,"b":0.7982,"m":-0.068},{"c":"Cn","st":"unstable","i":2,"b":0.795,"m":-0.136},{"c":"Cn","st":"unstable","i":3,"b":0.7905,"m":-0.199},{"c":"Cn","st":"unstable","i":4,"b":0.7837,"m":-0.256},{"c":"Cn","st":"unstable","i":5,"b":0.776,"m":-0.301},{"c":"Cn","st":"unstable","i":6,"b":0.7679,"m":-0.341},{"c":"Cn","st":"unstable","i":7,"b":0.7611,"m":-0.369}
]
},
"resolve":{"scale":{"color":"independent"},"legend":{"color":"independent"}},
"hconcat":[
{"title":{"text":"(a)","anchor":"start","frame":"bounds","fontWeight":"bold","fontSize":14,"offset":6,"dx":-4},
"spacing":12,
"resolve":{"scale":{"color":"independent"},"legend":{"color":"independent"}},
"vconcat":[
{"spacing":20,"resolve":{"scale":{"color":"independent"},"legend":{"color":"independent"}},"hconcat":[
{"width":122,"height":122,"title":"γ′ = 0.0, β = 0.5",
"encoding":{"x":{"field":"x","type":"quantitative","scale":{"domain":[-1,1],"nice":false,"zero":false},"axis":{"values":[-1,0,1],"format":"d","title":"m₁"}},
"y":{"field":"y","type":"quantitative","scale":{"domain":[-1,1],"nice":false,"zero":false},"axis":{"values":[-1,-0.5,0,0.5,1],"format":".1f","title":"m₂","titleAngle":0,"titleAlign":"right","titleBaseline":"middle","titleX":-24,"titleY":61}}},
"layer":[
{"data":{"name":"p1"},"mark":{"type":"square","size":160,"opacity":1,"filled":true,"strokeWidth":0,"clip":true},
"encoding":{"color":{"field":"v","type":"quantitative","scale":{"scheme":"inferno","domain":[0,1]},"legend":{"orient":"none","legendX":129,"legendY":4,"direction":"vertical","gradientLength":118,"gradientThickness":6,"title":null,"values":[0,0.54,0.77,1],"labelOffset":4,"gradientStrokeColor":"black","gradientStrokeWidth":0.6,"labelExpr":"datum.value > 0.9 ? '1.000' : datum.value > 0.7 ? '−0.355' : datum.value > 0.3 ? '−0.659' : '−0.693'"}}}},
{"data":{"name":"p1"},"mark":{"type":"point","shape":"M-0.1,1L0.1,1L0.1,-0.25L0.4,-0.25L0,-1L-0.4,-0.25L-0.1,-0.25Z","size":64,"filled":true,"color":"#111111","opacity":0.45,"strokeWidth":0,"clip":true},
"encoding":{"angle":{"field":"a","type":"quantitative","scale":null}}},
{"data":{"name":"k1"},"mark":{"type":"point","shape":"M-1,-1L1,1M-1,1L1,-1","size":30,"filled":false,"strokeWidth":1.6,"opacity":1},
"encoding":{"stroke":{"field":"t","type":"nominal","scale":{"domain":["min","saddle"],"range":["white","#222222"]},"legend":null}}}
]},
{"width":122,"height":122,"title":"γ′ = 0.0, β = 1.0",
"encoding":{"x":{"field":"x","type":"quantitative","scale":{"domain":[-1,1],"nice":false,"zero":false},"axis":{"values":[-1,0,1],"format":"d","title":"m₁"}},
"y":{"field":"y","type":"quantitative","scale":{"domain":[-1,1],"nice":false,"zero":false},"axis":{"values":[-1,-0.5,0,0.5,1],"format":".1f","title":"m₂","titleAngle":0,"titleAlign":"right","titleBaseline":"middle","titleX":-24,"titleY":61}}},
"layer":[
{"data":{"name":"p2"},"mark":{"type":"square","size":160,"opacity":1,"filled":true,"strokeWidth":0,"clip":true},
"encoding":{"color":{"field":"v","type":"quantitative","scale":{"scheme":"inferno","domain":[0,1]},"legend":{"orient":"none","legendX":129,"legendY":4,"direction":"vertical","gradientLength":118,"gradientThickness":6,"title":null,"values":[0,0.54,0.77,1],"labelOffset":4,"gradientStrokeColor":"black","gradientStrokeWidth":0.6,"labelExpr":"datum.value > 0.9 ? '1.000' : datum.value > 0.7 ? '−0.366' : datum.value > 0.3 ? '−0.673' : '−0.708'"}}}},
{"data":{"name":"p2"},"mark":{"type":"point","shape":"M-0.1,1L0.1,1L0.1,-0.25L0.4,-0.25L0,-1L-0.4,-0.25L-0.1,-0.25Z","size":64,"filled":true,"color":"#111111","opacity":0.45,"strokeWidth":0,"clip":true},
"encoding":{"angle":{"field":"a","type":"quantitative","scale":null}}},
{"data":{"name":"k2"},"mark":{"type":"point","shape":"M-1,-1L1,1M-1,1L1,-1","size":30,"filled":false,"strokeWidth":1.6,"opacity":1},
"encoding":{"stroke":{"field":"t","type":"nominal","scale":{"domain":["min","saddle"],"range":["white","#222222"]},"legend":null}}}
]},
{"width":122,"height":122,"title":"γ′ = 0.0, β = 1.5",
"encoding":{"x":{"field":"x","type":"quantitative","scale":{"domain":[-1,1],"nice":false,"zero":false},"axis":{"values":[-1,0,1],"format":"d","title":"m₁"}},
"y":{"field":"y","type":"quantitative","scale":{"domain":[-1,1],"nice":false,"zero":false},"axis":{"values":[-1,-0.5,0,0.5,1],"format":".1f","title":"m₂","titleAngle":0,"titleAlign":"right","titleBaseline":"middle","titleX":-24,"titleY":61}}},
"layer":[
{"data":{"name":"p3"},"mark":{"type":"square","size":160,"opacity":1,"filled":true,"strokeWidth":0,"clip":true},
"encoding":{"color":{"field":"v","type":"quantitative","scale":{"scheme":"inferno","domain":[0,1]},"legend":{"orient":"none","legendX":129,"legendY":4,"direction":"vertical","gradientLength":118,"gradientThickness":6,"title":null,"values":[0,0.54,0.77,1],"labelOffset":4,"gradientStrokeColor":"black","gradientStrokeWidth":0.6,"labelExpr":"datum.value > 0.9 ? '1.000' : datum.value > 0.7 ? '−0.476' : datum.value > 0.3 ? '−0.808' : '−0.845'"}}}},
{"data":{"name":"p3"},"mark":{"type":"point","shape":"M-0.1,1L0.1,1L0.1,-0.25L0.4,-0.25L0,-1L-0.4,-0.25L-0.1,-0.25Z","size":64,"filled":true,"color":"#111111","opacity":0.45,"strokeWidth":0,"clip":true},
"encoding":{"angle":{"field":"a","type":"quantitative","scale":null}}},
{"data":{"name":"k3"},"mark":{"type":"point","shape":"M-1,-1L1,1M-1,1L1,-1","size":30,"filled":false,"strokeWidth":1.6,"opacity":1},
"encoding":{"stroke":{"field":"t","type":"nominal","scale":{"domain":["min","saddle"],"range":["white","#222222"]},"legend":null}}}
]}
]},
{"spacing":20,"resolve":{"scale":{"color":"independent"},"legend":{"color":"independent"}},"hconcat":[
{"width":122,"height":122,"title":"γ′ = −1.2, β = 0.8",
"encoding":{"x":{"field":"x","type":"quantitative","scale":{"domain":[-1,1],"nice":false,"zero":false},"axis":{"values":[-1,0,1],"format":"d","title":"m₁"}},
"y":{"field":"y","type":"quantitative","scale":{"domain":[-1,1],"nice":false,"zero":false},"axis":{"values":[-1,-0.5,0,0.5,1],"format":".1f","title":"m₂","titleAngle":0,"titleAlign":"right","titleBaseline":"middle","titleX":-24,"titleY":61}}},
"layer":[
{"data":{"name":"p4"},"mark":{"type":"square","size":160,"opacity":1,"filled":true,"strokeWidth":0,"clip":true},
"encoding":{"color":{"field":"v","type":"quantitative","scale":{"scheme":"inferno","domain":[0,1]},"legend":{"orient":"none","legendX":129,"legendY":4,"direction":"vertical","gradientLength":118,"gradientThickness":6,"title":null,"values":[0,0.54,0.77,1],"labelOffset":4,"gradientStrokeColor":"black","gradientStrokeWidth":0.6,"labelExpr":"datum.value > 0.9 ? '1.000' : datum.value > 0.7 ? '−0.355' : datum.value > 0.3 ? '−0.659' : '−0.693'"}}}},
{"data":{"name":"p4"},"mark":{"type":"point","shape":"M-0.1,1L0.1,1L0.1,-0.25L0.4,-0.25L0,-1L-0.4,-0.25L-0.1,-0.25Z","size":64,"filled":true,"color":"#111111","opacity":0.45,"strokeWidth":0,"clip":true},
"encoding":{"angle":{"field":"a","type":"quantitative","scale":null}}},
{"data":{"name":"k4"},"mark":{"type":"point","shape":"M-1,-1L1,1M-1,1L1,-1","size":30,"filled":false,"strokeWidth":1.6,"opacity":1},
"encoding":{"stroke":{"field":"t","type":"nominal","scale":{"domain":["min","saddle"],"range":["white","#222222"]},"legend":null}}}
]},
{"width":122,"height":122,"title":"γ′ = −1.2, β = 0.825",
"encoding":{"x":{"field":"x","type":"quantitative","scale":{"domain":[-1,1],"nice":false,"zero":false},"axis":{"values":[-1,0,1],"format":"d","title":"m₁"}},
"y":{"field":"y","type":"quantitative","scale":{"domain":[-1,1],"nice":false,"zero":false},"axis":{"values":[-1,-0.5,0,0.5,1],"format":".1f","title":"m₂","titleAngle":0,"titleAlign":"right","titleBaseline":"middle","titleX":-24,"titleY":61}}},
"layer":[
{"data":{"name":"p5"},"mark":{"type":"square","size":160,"opacity":1,"filled":true,"strokeWidth":0,"clip":true},
"encoding":{"color":{"field":"v","type":"quantitative","scale":{"scheme":"inferno","domain":[0,1]},"legend":{"orient":"none","legendX":129,"legendY":4,"direction":"vertical","gradientLength":118,"gradientThickness":6,"title":null,"values":[0,0.54,0.77,1],"labelOffset":4,"gradientStrokeColor":"black","gradientStrokeWidth":0.6,"labelExpr":"datum.value > 0.9 ? '1.000' : datum.value > 0.7 ? '−0.356' : datum.value > 0.3 ? '−0.661' : '−0.695'"}}}},
{"data":{"name":"p5"},"mark":{"type":"point","shape":"M-0.1,1L0.1,1L0.1,-0.25L0.4,-0.25L0,-1L-0.4,-0.25L-0.1,-0.25Z","size":64,"filled":true,"color":"#111111","opacity":0.45,"strokeWidth":0,"clip":true},
"encoding":{"angle":{"field":"a","type":"quantitative","scale":null}}},
{"data":{"name":"k5"},"mark":{"type":"point","shape":"M-1,-1L1,1M-1,1L1,-1","size":30,"filled":false,"strokeWidth":1.6,"opacity":1},
"encoding":{"stroke":{"field":"t","type":"nominal","scale":{"domain":["min","saddle"],"range":["white","#222222"]},"legend":null}}}
]},
{"width":122,"height":122,"title":"γ′ = −1.2, β = 0.9",
"encoding":{"x":{"field":"x","type":"quantitative","scale":{"domain":[-1,1],"nice":false,"zero":false},"axis":{"values":[-1,0,1],"format":"d","title":"m₁"}},
"y":{"field":"y","type":"quantitative","scale":{"domain":[-1,1],"nice":false,"zero":false},"axis":{"values":[-1,-0.5,0,0.5,1],"format":".1f","title":"m₂","titleAngle":0,"titleAlign":"right","titleBaseline":"middle","titleX":-24,"titleY":61}}},
"layer":[
{"data":{"name":"p6"},"mark":{"type":"square","size":160,"opacity":1,"filled":true,"strokeWidth":0,"clip":true},
"encoding":{"color":{"field":"v","type":"quantitative","scale":{"scheme":"inferno","domain":[0,1]},"legend":{"orient":"none","legendX":129,"legendY":4,"direction":"vertical","gradientLength":118,"gradientThickness":6,"title":null,"values":[0,0.54,0.77,1],"labelOffset":4,"gradientStrokeColor":"black","gradientStrokeWidth":0.6,"labelExpr":"datum.value > 0.9 ? '1.000' : datum.value > 0.7 ? '−0.398' : datum.value > 0.3 ? '−0.712' : '−0.747'"}}}},
{"data":{"name":"p6"},"mark":{"type":"point","shape":"M-0.1,1L0.1,1L0.1,-0.25L0.4,-0.25L0,-1L-0.4,-0.25L-0.1,-0.25Z","size":64,"filled":true,"color":"#111111","opacity":0.45,"strokeWidth":0,"clip":true},
"encoding":{"angle":{"field":"a","type":"quantitative","scale":null}}},
{"data":{"name":"k6"},"mark":{"type":"point","shape":"M-1,-1L1,1M-1,1L1,-1","size":30,"filled":false,"strokeWidth":1.6,"opacity":1},
"encoding":{"stroke":{"field":"t","type":"nominal","scale":{"domain":["min","saddle"],"range":["white","#222222"]},"legend":null}}}
]}
]}
]},
{"title":{"text":"(b)","anchor":"start","frame":"bounds","fontWeight":"bold","fontSize":14,"offset":6,"dx":-8},
"spacing":18,
"vconcat":[
{"width":168,"height":124,"title":"γ′ = 0.0","data":{"name":"b1"},
"encoding":{"x":{"field":"b","type":"quantitative","scale":{"domain":[0.5,1.6],"nice":false,"zero":false},"axis":{"values":[0.5,1,1.5],"format":".1f","title":"β"}},
"y":{"field":"m","type":"quantitative","scale":{"domain":[-1.04,1.04],"nice":false,"zero":false},"axis":{"values":[-1,-0.5,0,0.5,1],"format":".1f","title":"m","titleFontWeight":"bold","titleAngle":0,"titleAlign":"right","titleBaseline":"middle","titleX":-31,"titleY":62}},
"detail":{"field":"c","type":"nominal"},
"order":{"field":"i","type":"quantitative"}},
"layer":[
{"transform":[{"filter":"datum.c != 'z'"}],"mark":{"type":"line","color":"black","strokeWidth":1.5,"clip":true}},
{"transform":[{"filter":"datum.c == 'z'"}],"mark":{"type":"line","color":"black","strokeWidth":2.4,"clip":true}}
]},
{"width":163,"height":121,"title":"γ′ = −1.25","data":{"name":"b2"},
"encoding":{"x":{"field":"b","type":"quantitative","scale":{"domain":[0.678,0.9],"nice":false,"zero":false},"axis":{"values":[0.7,0.8,0.9],"format":".1f","title":"β"}},
"y":{"field":"m","type":"quantitative","scale":{"domain":[-1.04,1.05],"nice":false,"zero":false},"axis":{"values":[-1,-0.5,0,0.5,1],"format":".1f","title":"m","titleFontWeight":"bold","titleAngle":0,"titleAlign":"right","titleBaseline":"middle","titleX":-31,"titleY":60}},
"detail":{"field":"c","type":"nominal"},
"order":{"field":"i","type":"quantitative"}},
"layer":[
{"mark":{"type":"line","color":"black","strokeWidth":1.5,"clip":true},
"encoding":{"strokeDash":{"field":"st","type":"nominal","scale":{"domain":["stable","unstable"],"range":[[1,0],[1.5,1.5]]},"legend":null}}}
]}
]}
],
"spacing":24
}
